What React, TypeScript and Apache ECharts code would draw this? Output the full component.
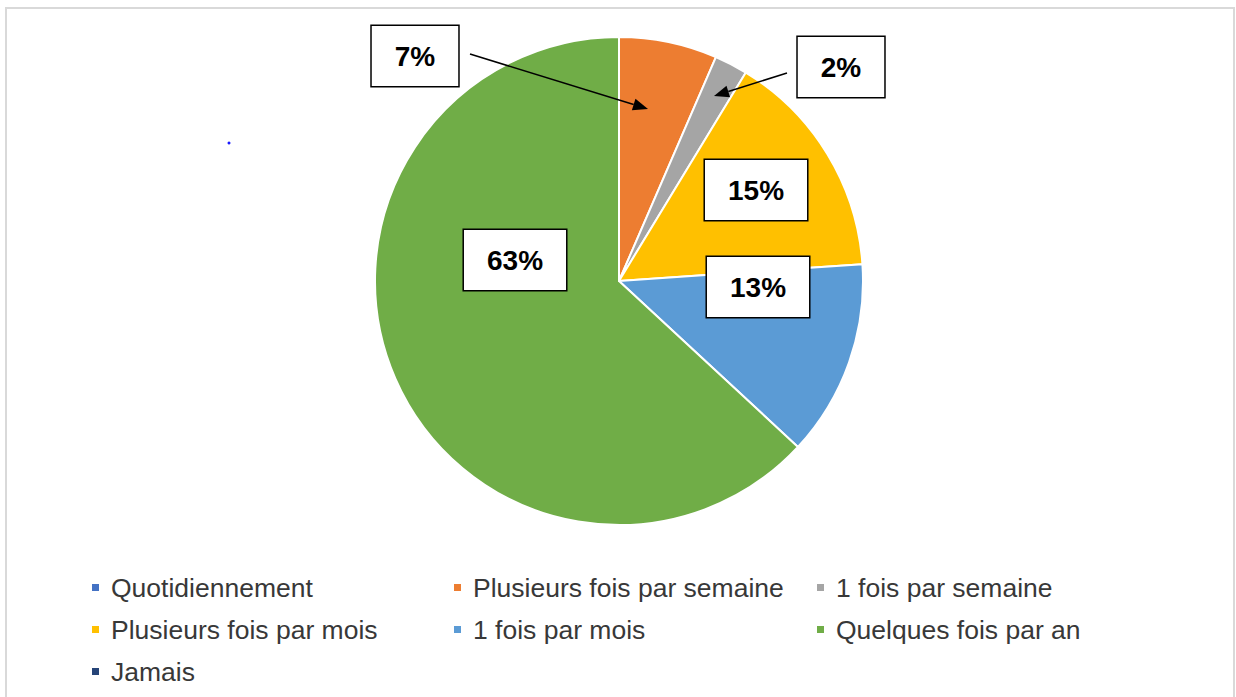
import React, { useEffect, useRef } from "react";
import * as echarts from "echarts";

const categories = [
  "Quotidiennement",
  "Plusieurs fois par semaine",
  "1 fois par semaine",
  "Plusieurs fois par mois",
  "1 fois par mois",
  "Quelques fois par an",
  "Jamais",
];
const values = [0, 6.5, 2.2, 15.2, 13.0, 63.1, 0];
const colors = ["#4472C4", "#ED7D31", "#A5A5A5", "#FFC000", "#5B9BD5", "#70AD47", "#264478"];

// label box centres (layout only)
const labelPos: Record<number, [number, number]> = {
  1: [415, 56],
  2: [841, 67],
  3: [756, 190],
  4: [758, 287],
  5: [515, 260],
};

const legendColumns = [
  { left: 92, names: [categories[0], categories[3], categories[6]] },
  { left: 454, names: [categories[1], categories[4]] },
  { left: 817, names: [categories[2], categories[5]] },
];

function arrow(x1: number, y1: number, x2: number, y2: number) {
  const ang = Math.atan2(y2 - y1, x2 - x1);
  const len = 15;
  const half = 6;
  const bx = x2 - Math.cos(ang) * len;
  const by = y2 - Math.sin(ang) * len;
  const px = -Math.sin(ang) * half;
  const py = Math.cos(ang) * half;
  return [
    {
      type: "line",
      shape: { x1, y1, x2: bx, y2: by },
      style: { stroke: "#000", lineWidth: 1.5 },
      z: 100,
    },
    {
      type: "polygon",
      shape: { points: [[x2, y2], [bx + px, by + py], [bx - px, by - py]] },
      style: { fill: "#000" },
      z: 100,
    },
  ];
}

export default function App() {
  const ref = useRef<HTMLDivElement>(null);
  useEffect(() => {
    if (!ref.current) return;
    const chart = echarts.init(ref.current, undefined, { renderer: "svg" });
    const font = "'Liberation Sans', Arial, sans-serif";
    chart.setOption({
      animation: false,
      color: colors,
      textStyle: { fontFamily: font },
      legend: legendColumns.map((c) => ({
        orient: "vertical",
        left: c.left,
        top: 574,
        padding: 0,
        itemGap: 15,
        itemWidth: 7,
        itemHeight: 7,
        icon: "rect",
        selectedMode: false,
        itemStyle: { borderWidth: 0 },
        data: c.names,
        textStyle: {
          fontSize: 26.5,
          lineHeight: 26,
          color: "#383838",
          fontFamily: font,
          padding: [0, 0, 0, 7],
        },
      })),
      graphic: [
        {
          type: "rect",
          shape: { x: 6, y: 8, width: 1228, height: 700 },
          style: { fill: "none", stroke: "#d9d9d9", lineWidth: 2 },
          z: -1,
        },
        {
          type: "circle",
          shape: { cx: 229, cy: 143, r: 1.5 },
          style: { fill: "#1a1aff" },
        },
        ...arrow(470, 54, 648, 109),
        ...arrow(787, 73, 714, 96),
      ],
      series: [
        {
          type: "pie",
          center: [619, 281],
          radius: [0, 244],
          startAngle: 90,
          clockwise: true,
          silent: true,
          itemStyle: { borderColor: "#fff", borderWidth: 2 },
          label: {
            show: true,
            position: "inside",
            formatter: (p: any) => Math.round(p.value) + "%",
            fontSize: 28,
            fontWeight: "bold",
            fontFamily: font,
            color: "#000",
            backgroundColor: "#fff",
            borderColor: "#000",
            borderWidth: 1.5,
            lineHeight: 30,
            padding: [15, 23],
          },
          labelLine: { show: false },
          labelLayout: (params: any) => {
            const pos = labelPos[params.dataIndex];
            if (!pos) return {};
            return { x: pos[0], y: pos[1], align: "center", verticalAlign: "middle" };
          },
          data: categories.map((name, i) => ({
            name,
            value: values[i],
            label: values[i] === 0 ? { show: false } : undefined,
          })),
        },
      ],
    });
    return () => chart.dispose();
  }, []);
  return (
    <div
      ref={ref}
      style={{ position: "fixed", left: 0, top: 0, width: 1236, height: 697, background: "#fff" }}
    />
  );
}
